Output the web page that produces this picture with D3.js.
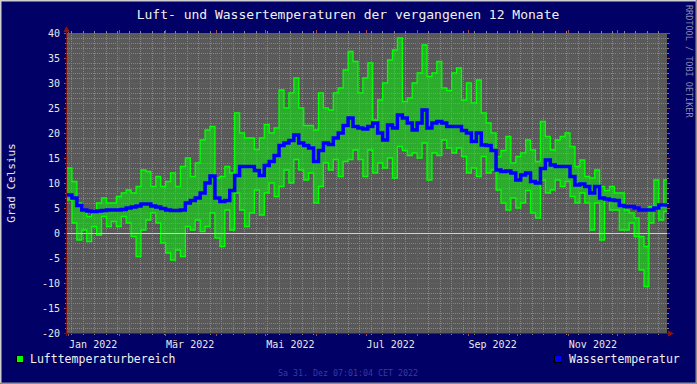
<!DOCTYPE html>
<html>
<head>
<meta charset="utf-8">
<script src="https://cdn.jsdelivr.net/npm/d3@7"></script>
<style>
    body { margin: 0; background: #000066; }
    svg { display: block; }
    text { font-family: "DejaVu Sans Mono", monospace; }
</style>
</head>
<body>
<div id="vis"></div>
<script>

// 3-Tages-Werte ab 31.12.2021
let airMax = [13, 10.3, 6, 4.5, 3.3, 4.6, 6, 7, 6, 6,
    7.3, 8, 8.6, 8, 9.3, 12.6, 12.3, 9.3, 11.3, 9.3,
    10.3, 12, 9.3, 13.3, 15, 11.3, 14, 18.6, 20.6, 21.3,
    11, 11.3, 13.3, 12, 24, 20, 19, 19, 16.7, 19,
    21.7, 20, 21, 28.6, 25, 28, 31, 25, 21.5, 21.5,
    20.6, 28, 25, 24.6, 28, 29, 32.6, 36.3, 34.3, 28,
    31, 34, 22.6, 26.6, 30, 34.6, 36.6, 39, 26.3, 27,
    30, 32, 37.6, 31.3, 32, 34.3, 29, 28.5, 32, 33,
    26.6, 30, 26, 30.6, 24, 22, 20, 15.3, 16.5, 19.3,
    14, 15.3, 16, 18.6, 16.6, 14.3, 22.3, 19.3, 16.6, 18.6,
    19.3, 20, 17.3, 13.3, 14.6, 11.3, 11, 12.6, 9.3, 8.5,
    9.3, 8, 8, 4.6, 4, 3, -0.7, -2.7, 5.3, 10.6,
    5.3, 10.6];

let airMin = [6.6, 2, -1.4, 0.6, -1.7, 1.3, -0.4, 3.3, 1.3, 2.3,
    1.3, 3.3, 2, -0.7, -4.7, 0.6, 2.6, 4, 2, -2,
    -4, -5.4, -3.4, -4.7, 1.3, 0.6, 2.6, 0.3, 1.3, 4,
    -1, -2.7, 4.6, 0.6, 8, 4.6, 1.3, 4, 8.6, 3.6,
    8, 10, 7.3, 9.3, 12.6, 10, 14.7, 12.6, 10.6, 12,
    6, 9.3, 14, 12.6, 14.7, 11.3, 14.3, 14.7, 16.6, 14.7,
    11.3, 16.6, 12, 14, 13, 15, 11, 17.3, 16.5, 15.5,
    16, 15, 18, 10.6, 16, 15.5, 18.6, 17, 16, 17,
    15.3, 12, 13, 11.3, 15.3, 12, 12.6, 8.6, 6, 4.6,
    7, 5, 6, 8.5, 4, 3, 10.6, 8, 8.6, 10.6,
    9.3, 10.3, 7.3, 6, 8, 6, 0.6, 6, -1.4, 7,
    4.6, 4.6, 0.6, 0.6, 2, -0.7, -7.4, -10.7, 2, 5.3,
    2.6, 4.3];

let water = [7.6, 7, 5.5, 4.6, 4.4, 4.3, 4.4, 4.5, 4.6, 4.6,
    4.6, 4.7, 5, 5.2, 5.4, 5.8, 5.8, 5.4, 5.2, 4.9,
    4.6, 4.5, 4.5, 4.6, 6, 6.5, 7, 8, 10, 11.4,
    7, 6.3, 6.5, 8.5, 11.5, 13.3, 13.3, 13.3, 12.5, 11.5,
    13.5, 14.3, 15.5, 17.5, 18, 18.5, 19.6, 18, 17.5, 17,
    14.3, 16.5, 18, 17.7, 19, 20, 21.5, 23, 21.3, 21,
    20.8, 21.3, 22, 20, 18.6, 21.6, 21, 23.6, 23, 22,
    20.6, 22, 24.6, 21, 22, 22.3, 22, 21.3, 21.3, 21.3,
    20.5, 20, 18.3, 20, 17.6, 17.5, 16.5, 12.6, 12.3, 12.4,
    12, 10.6, 11.6, 12, 10.3, 10, 12.9, 14.6, 13.6, 13.3,
    13.3, 13.3, 11.3, 9.6, 9.8, 9.3, 8, 9.3, 7, 6.8,
    6.6, 6.5, 5.5, 5.3, 5.3, 5, 4.6, 4.6, 4.6, 5,
    5.6, 5.6];

let yTickValues = [-20, -15, -10, -5, 0, 5, 10, 15, 20, 25, 30, 35, 40];
let xLabels = ['Jan 2022', 'Mär 2022', 'Mai 2022', 'Jul 2022', 'Sep 2022', 'Nov 2022'];
let xLabelDates = [new Date(2022, 0, 1), new Date(2022, 2, 1), new Date(2022, 4, 1),
    new Date(2022, 6, 1), new Date(2022, 8, 1), new Date(2022, 10, 1)];

let startDate = new Date(2021, 11, 31, 7, 1),
    endDate = new Date(2022, 11, 31, 7, 1);

let W = 697, H = 384;
let margin = {top: 33, right: 30, bottom: 51, left: 67};

let data = airMax.map(function (d, i) {
    return {date: d3.timeDay.offset(startDate, 3 * i), max: d, min: airMin[i], water: water[i]};
});
// letzter Wert bis zum Ende ziehen
let last = data[data.length - 1];
data.push({date: endDate, max: last.max, min: last.min, water: last.water});

let x = d3.scaleTime()
    .domain([startDate, endDate])
    .range([margin.left, W - margin.right]);

let y = d3.scaleLinear()
    .domain([-20, 40])
    .range([H - margin.bottom, margin.top]);

let x0 = x.range()[0], x1 = x.range()[1],
    y0 = y.range()[0], y1 = y.range()[1];

let svg = d3.select('#vis')
    .append('svg')
    .attr('width', W)
    .attr('height', H);

svg.append('rect')
    .attr('width', W).attr('height', H)
    .attr('fill', '#000066');

// Rahmen
svg.append('path').attr('d', 'M0.5,' + (H - 0.5) + 'V0.5H' + (W - 0.5))
    .attr('stroke', '#cfcfcf').attr('stroke-width', 2).attr('fill', 'none');
svg.append('path').attr('d', 'M' + (W - 0.5) + ',0.5V' + (H - 0.5) + 'H0.5')
    .attr('stroke', '#8f8f8f').attr('stroke-width', 2).attr('fill', 'none');

// Plotfläche
svg.append('rect')
    .attr('x', x0).attr('y', y1)
    .attr('width', x1 - x0).attr('height', y0 - y1)
    .attr('fill', '#595959');

let grid = svg.append('g').attr('class', 'grid');

// horizontale Linien, 1 Grad
let yMinor = d3.range(-20, 41, 1);
yMinor.forEach(function (v) {
    let major = yTickValues.indexOf(v) >= 0;
    let yy = Math.round(y(v)) + 0.5;
    let col = major ? '#b04848' : '#858585';
    let ext = major ? 3 : 2;
    grid.append('line')
        .attr('x1', x0).attr('x2', x1).attr('y1', yy).attr('y2', yy)
        .attr('stroke', col).attr('stroke-dasharray', '1,1');
    grid.append('line')
        .attr('x1', x0 - ext).attr('x2', x0).attr('y1', yy).attr('y2', yy)
        .attr('stroke', col);
    grid.append('line')
        .attr('x1', x1).attr('x2', x1 + ext).attr('y1', yy).attr('y2', yy)
        .attr('stroke', col);
});

// vertikale Linien, Wochen und Monate
let weeks = d3.timeMonday.range(startDate, endDate);
let months = d3.timeMonth.range(startDate, endDate);

function vline(d, col, ext) {
    let xx = Math.round(x(d)) + 0.5;
    grid.append('line')
        .attr('x1', xx).attr('x2', xx).attr('y1', y1).attr('y2', y0)
        .attr('stroke', col).attr('stroke-dasharray', '1,1');
    grid.append('line')
        .attr('x1', xx).attr('x2', xx).attr('y1', y1 - ext).attr('y2', y1)
        .attr('stroke', col);
    grid.append('line')
        .attr('x1', xx).attr('x2', xx).attr('y1', y0).attr('y2', y0 + ext)
        .attr('stroke', col);
}
weeks.forEach(function (d) { vline(d, '#858585', 2); });
months.forEach(function (d) { vline(d, '#b04848', 3); });

// Lufttemperaturbereich
let area = d3.area()
    .x(function (d) { return x(d.date); })
    .y0(function (d) { return y(d.min); })
    .y1(function (d) { return y(d.max); })
    .curve(d3.curveStepAfter);

svg.append('path')
    .datum(data)
    .attr('d', area)
    .attr('fill', 'rgba(0,255,0,0.5)');

let lineMax = d3.line()
    .x(function (d) { return x(d.date); })
    .y(function (d) { return y(d.max); })
    .curve(d3.curveStepAfter);

let lineMin = d3.line()
    .x(function (d) { return x(d.date); })
    .y(function (d) { return y(d.min); })
    .curve(d3.curveStepAfter);

svg.append('path').datum(data).attr('d', lineMax)
    .attr('fill', 'none').attr('stroke', '#00ff00').attr('stroke-width', 1.3);
svg.append('path').datum(data).attr('d', lineMin)
    .attr('fill', 'none').attr('stroke', '#00ff00').attr('stroke-width', 1.3);

// Nulllinie
svg.append('line')
    .attr('x1', x0).attr('x2', x1)
    .attr('y1', Math.round(y(0)) + 0.5).attr('y2', Math.round(y(0)) + 0.5)
    .attr('stroke', '#d0d0d0');

// Wassertemperatur
let lineWater = d3.line()
    .x(function (d) { return x(d.date); })
    .y(function (d) { return y(d.water); })
    .curve(d3.curveStepAfter);

svg.append('path').datum(data).attr('d', lineWater)
    .attr('fill', 'none').attr('stroke', '#0000ff').attr('stroke-width', 3.5);

// Achsen
svg.append('line')
    .attr('x1', x0 - 0.5).attr('x2', x0 - 0.5).attr('y1', y0 + 3).attr('y2', y1 - 4)
    .attr('stroke', '#7a1010');
svg.append('line')
    .attr('x1', x0 - 3).attr('x2', x1 + 3).attr('y1', y0 + 0.5).attr('y2', y0 + 0.5)
    .attr('stroke', '#7a1010');
svg.append('path')
    .attr('d', 'M' + (x0 - 3.5) + ',' + (y1 - 1) + 'L' + (x0 - 0.5) + ',' + (y1 - 7) + 'L' + (x0 + 2.5) + ',' + (y1 - 1) + 'Z')
    .attr('fill', '#8a1414');
svg.append('path')
    .attr('d', 'M' + (x1 + 1) + ',' + (y0 - 2.5) + 'L' + (x1 + 7) + ',' + (y0 + 0.5) + 'L' + (x1 + 1) + ',' + (y0 + 3.5) + 'Z')
    .attr('fill', '#8a1414');

// Beschriftung Y
svg.selectAll('text.ylab')
    .data(yTickValues)
    .enter()
    .append('text')
    .attr('class', 'ylab')
    .attr('x', x0 - 7)
    .attr('y', function (d) { return y(d) + 3.5; })
    .attr('text-anchor', 'end')
    .attr('font-size', 10)
    .attr('fill', '#e8e8e8')
    .text(function (d) { return d; });

// Beschriftung X
svg.selectAll('text.xlab')
    .data(xLabels)
    .enter()
    .append('text')
    .attr('class', 'xlab')
    .attr('x', function (d, i) { return x(xLabelDates[i]) + 25; })
    .attr('y', y0 + 15)
    .attr('text-anchor', 'middle')
    .attr('font-size', 10)
    .attr('fill', '#e8e8e8')
    .text(function (d) { return d; });

// Titel
svg.append('text')
    .attr('x', 348).attr('y', 18.5)
    .attr('text-anchor', 'middle')
    .attr('font-size', 13)
    .attr('fill', '#f0f0f0')
    .text('Luft- und Wassertemperaturen der vergangenen 12 Monate');

svg.append('text')
    .attr('transform', 'translate(15,' + 183 + ') rotate(-90)')
    .attr('text-anchor', 'middle')
    .attr('font-size', 11)
    .attr('fill', '#e8e8e8')
    .text('Grad Celsius');

svg.append('text')
    .attr('transform', 'translate(686,5) rotate(90)')
    .attr('text-anchor', 'start')
    .attr('font-size', 8.5)
    .attr('fill', '#8a8ab0')
    .text('RRDTOOL / TOBI OETIKER');

// Legende
svg.append('rect')
    .attr('x', 16.5).attr('y', 355.5).attr('width', 7).attr('height', 7)
    .attr('fill', '#00ff00').attr('stroke', '#000000');
svg.append('text')
    .attr('x', 30).attr('y', 363)
    .attr('font-size', 11.5)
    .attr('fill', '#f0f0f0')
    .text('Lufttemperaturbereich');

svg.append('rect')
    .attr('x', 554.5).attr('y', 355.5).attr('width', 7).attr('height', 7)
    .attr('fill', '#0000ff').attr('stroke', '#000000');
svg.append('text')
    .attr('x', 569).attr('y', 363)
    .attr('font-size', 11.5)
    .attr('fill', '#f0f0f0')
    .text('Wassertemperatur');

svg.append('text')
    .attr('x', 348).attr('y', 376)
    .attr('text-anchor', 'middle')
    .attr('font-size', 8.3)
    .attr('fill', '#3a3aa0')
    .text('Sa 31. Dez 07:01:04 CET 2022');

</script>
</body>
</html>
